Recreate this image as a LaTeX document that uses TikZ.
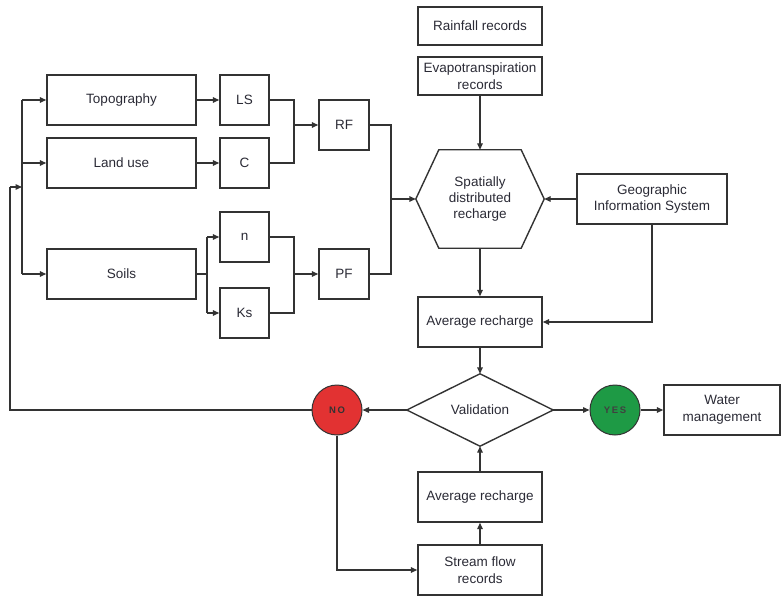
\documentclass[tikz,border=0pt]{standalone}
\usepackage{fontspec}
\setmainfont{Liberation Sans}
\usetikzlibrary{arrows.meta}
\definecolor{lin}{HTML}{333333}
\definecolor{txt}{HTML}{2A2A35}
\definecolor{nored}{HTML}{E23232}
\definecolor{yesgreen}{HTML}{1E9A45}
\tikzset{
  box/.style={draw=lin, line width=1.4pt, inner sep=0pt, align=center, text=txt,
     font=\fontsize{13.5}{16.5}\selectfont},
  plain/.style={inner sep=0pt, align=center, text=txt, font=\fontsize{13.5}{16}\selectfont},
  ln/.style={draw=lin, line width=1.4pt},
  arr/.style={draw=lin, line width=1.4pt, -{Triangle[length=6.5pt,width=5.5pt]}},
  circ/.style={circle, draw=lin, line width=1pt, minimum size=50pt, inner sep=0pt,
     font=\fontsize{9.5}{11}\bfseries\selectfont},
}
\begin{document}
\begin{tikzpicture}[x=1pt,y=-1pt]
\useasboundingbox (0,0) rectangle (783,596);
% boxes
\node[box, minimum width=124pt, minimum height=38pt] (rain) at (480,26) {Rainfall records};
\node[box, minimum width=124pt, minimum height=38pt] (evap) at (480,76) {Evapotranspiration\\records};
\node[box, minimum width=149pt, minimum height=50pt] (topo) at (121.5,100) {Topography};
\node[box, minimum width=149pt, minimum height=50pt] (land) at (121.5,163) {Land use};
\node[box, minimum width=149pt, minimum height=50pt] (soil) at (121.5,274) {Soils};
\node[box, minimum width=49pt, minimum height=50pt] (ls) at (244.5,100) {LS};
\node[box, minimum width=49pt, minimum height=50pt] (c) at (244.5,163) {C};
\node[box, minimum width=49pt, minimum height=50pt] (n) at (244.5,237) {n};
\node[box, minimum width=49pt, minimum height=50pt] (ks) at (244.5,313) {Ks};
\node[box, minimum width=50pt, minimum height=50pt] (rf) at (344,125) {RF};
\node[box, minimum width=50pt, minimum height=50pt] (pf) at (344,274) {PF};
\node[box, minimum width=150pt, minimum height=50pt] (gis) at (652,199) {Geographic\\Information System};
\node[box, minimum width=124pt, minimum height=50pt] (avg1) at (480,322) {Average recharge};
\node[box, minimum width=124pt, minimum height=50pt] (avg2) at (480,497) {Average recharge};
\node[box, minimum width=124pt, minimum height=50pt] (sfr) at (480,570) {Stream flow\\records};
\node[box, minimum width=116pt, minimum height=50pt] (wm) at (722,410) {Water\\management};
% hexagon
\node[plain, minimum width=128pt, minimum height=98pt] (hex) at (480,199) {Spatially\\distributed\\recharge};
\draw[ln, line join=miter] (hex.west) -- ([xshift=23pt]hex.north west) -- ([xshift=-23pt]hex.north east)
  -- (hex.east) -- ([xshift=-23pt]hex.south east) -- ([xshift=23pt]hex.south west) -- cycle;
% diamond
\node[plain, minimum width=146pt, minimum height=72pt] (val) at (480,410) {Validation};
\draw[ln, line join=miter] (val.west) -- (val.north) -- (val.east) -- (val.south) -- cycle;
% circles
\node[circ, fill=nored, text=black!80] (no) at (337,410) {N\,O};
\node[circ, fill=yesgreen, text=black!75] (yes) at (615,410) {Y\,E\,S};
% coordinates
\coordinate (bt) at (22,100);
\coordinate (bm) at (22,163);
\coordinate (bb) at (22,274);
\coordinate (bf) at (22,187);
\coordinate (fb1) at (10,410);
\coordinate (fb2) at (10,187);
\coordinate (j1) at (294,125);
\coordinate (j2) at (294,274);
\coordinate (js) at (207,274);
\coordinate (jn) at (207,237);
\coordinate (jk) at (207,313);
\coordinate (jr) at (391,199);
% left bus
\draw[ln] (bt) -- (bb);
\draw[arr] (bt) -- (topo.west);
\draw[arr] (bm) -- (land.west);
\draw[arr] (bb) -- (soil.west);
\draw[ln] (no.west) -- (fb1) -- (fb2);
\draw[arr] (fb2) -- (bf);
% topo/land to LS,C
\draw[arr] (topo.east) -- (ls.west);
\draw[arr] (land.east) -- (c.west);
\draw[ln] (ls.east) -| (j1);
\draw[ln] (c.east) -| (j1);
\draw[arr] (j1) -- (rf.west);
% soils
\draw[ln] (soil.east) -- (js);
\draw[ln] (jn) -- (jk);
\draw[arr] (jn) -- (n.west);
\draw[arr] (jk) -- (ks.west);
\draw[ln] (n.east) -| (j2);
\draw[ln] (ks.east) -| (j2);
\draw[arr] (j2) -- (pf.west);
% RF, PF to hex
\draw[ln] (rf.east) -| (jr);
\draw[ln] (pf.east) -| (jr);
\draw[arr] (jr) -- (hex.west);
% top
\draw[arr] (evap.south) -- (hex.north);
\draw[arr] (gis.west) -- (hex.east);
\draw[arr] (hex.south) -- (avg1.north);
\draw[arr] (gis.south) |- (avg1.east);
\draw[arr] (avg1.south) -- (val.north);
% validation
\draw[arr] (val.west) -- (no.east);
\draw[arr] (val.east) -- (yes.west);
\draw[arr] (yes.east) -- (wm.west);
\draw[arr] (no.south) |- (sfr.west);
\draw[arr] (sfr.north) -- (avg2.south);
\draw[arr] (avg2.north) -- (val.south);
\end{tikzpicture}
\end{document}
